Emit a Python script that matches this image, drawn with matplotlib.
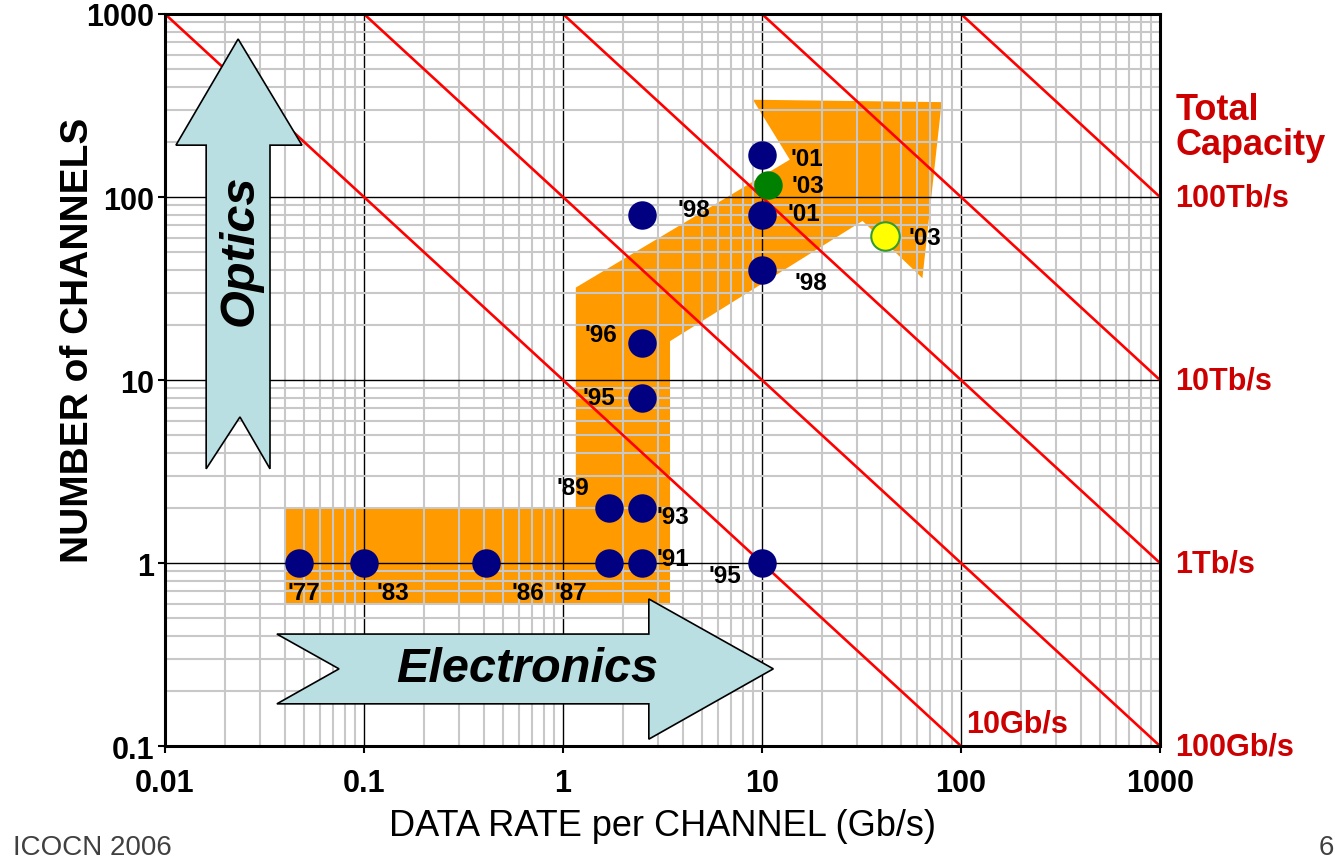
import matplotlib
matplotlib.use("Agg")
import matplotlib.pyplot as plt
import numpy as np
from matplotlib.patches import Polygon

plt.rcParams['font.family'] = ['Liberation Sans', 'DejaVu Sans']

# Experiment records: data rate per channel (Gb/s) vs number of channels
rate = [0.047, 0.1, 0.41, 1.7, 2.5, 1.7, 2.5, 2.5, 2.5, 2.5, 10, 10, 10, 10]
channels = [1, 1, 1, 1, 1, 2, 2, 8, 16, 80, 1, 40, 80, 170]
years = ["'77", "'83", "'86", "'87", "'91", "'89", "'93", "'95", "'96", "'98",
         "'95", "'98", "'01", "'01"]

# 2003 records
rate_03 = [10.7, 41.5]
channels_03 = [116, 61]
years_03 = ["'03", "'03"]

# total capacity lines (Gb/s)
capacity = [10, 100, 1000, 1e4, 1e5]
capacity_labels = ['10Gb/s', '100Gb/s', '1Tb/s', '10Tb/s', '100Tb/s']

xticks = [0.01, 0.1, 1, 10, 100, 1000]
xtick_labels = ['0.01', '0.1', '1', '10', '100', '1000']
yticks = [0.1, 1, 10, 100, 1000]
ytick_labels = ['0.1', '1', '10', '100', '1000']

# label offsets (points) for each record
offs = [(4, -21), (21, -21), (30, -21), (-27, -21), (22, 3), (-26, 15), (22, -6),
        (-31, 0), (-30, 6), (37, 4), (-27, -9), (35, -9), (30, 1), (32, -3)]
offs_03 = [(29, 0), (29, -1)]

fig = plt.figure(figsize=(13.35, 8.62), dpi=100)
ax = fig.add_axes([0.1236, 0.1334, 0.7453, 0.8492])
ax.set_xscale('log')
ax.set_yscale('log')
ax.set_xlim(0.01, 1000)
ax.set_ylim(0.1, 1000)

# orange L-shaped trend arrow
trend = [(0.04, 0.6), (0.04, 2), (1.16, 2), (1.16, 32), (13.8, 160), (9, 340),
         (80, 330), (64, 36), (32, 74), (3.45, 16.3), (3.45, 0.6)]
ax.add_patch(Polygon(trend, closed=True, facecolor='#ff9a00', edgecolor='none', zorder=0.2))

# grid
ax.set_axisbelow(True)
ax.grid(which='minor', color='#c8c8c8', lw=1.5)
ax.grid(which='major', color='black', lw=1.0)

# total capacity lines
xl = np.array([1e-3, 1e4])
for c in capacity:
    ax.plot(xl, c / xl, color='#ff0000', lw=1.9, zorder=2)

# light blue arrows
optics = [(0.0233, 730), (0.0488, 192), (0.0337, 192), (0.0337, 3.27), (0.0238, 6.28),
          (0.0161, 3.27), (0.0161, 192), (0.01135, 192)]
ax.add_patch(Polygon(optics, closed=True, facecolor='#b9dfe2', edgecolor='black', lw=1.2, zorder=3))
electronics = [(0.0365, 0.409), (2.70, 0.409), (2.70, 0.636), (11.4, 0.264), (2.70, 0.109),
               (2.70, 0.170), (0.0365, 0.170), (0.0749, 0.264)]
ax.add_patch(Polygon(electronics, closed=True, facecolor='#b9dfe2', edgecolor='black', lw=1.2, zorder=3))
ax.text(0.0238, 52, 'Optics', rotation=90, ha='center', va='center', fontsize=35,
        fontweight='bold', fontstyle='italic', zorder=4)
ax.text(0.66, 0.265, 'Electronics', ha='center', va='center', fontsize=35,
        fontweight='bold', fontstyle='italic', zorder=4)

# data points
ax.plot(rate, channels, 'o', color='#000080', ms=20.5, mec='none', zorder=5)
ax.plot(rate_03[0], channels_03[0], 'o', color='#008000', ms=20.5, mec='none', zorder=5)
ax.plot(rate_03[1], channels_03[1], 'o', color='#ffff00', ms=20.5, mec='#339933', mew=1.5, zorder=5)

for x, y, t, o in zip(rate + rate_03, channels + channels_03, years + years_03, offs + offs_03):
    ax.annotate(t, (x, y), xytext=o, textcoords='offset points', ha='center', va='center',
                fontsize=17.5, fontweight='bold', zorder=6)

# capacity labels
red = '#cc0000'
ax.annotate(capacity_labels[0], (100, 0.1), xytext=(4, 16), textcoords='offset points',
            ha='left', va='center', fontsize=22, fontweight='bold', color=red, annotation_clip=False)
for c, lab in zip(capacity[1:], capacity_labels[1:]):
    ax.annotate(lab, (1000, c / 1000), xytext=(11, 0), textcoords='offset points',
                ha='left', va='center', fontsize=22, fontweight='bold', color=red,
                annotation_clip=False)
ax.annotate('Total\nCapacity', (1000, 100), xytext=(11, 25), textcoords='offset points',
            ha='left', va='bottom', fontsize=26, fontweight='bold', color=red,
            linespacing=1.02, annotation_clip=False)

# axes styling
for s in ax.spines.values():
    s.set_linewidth(2.2)
ax.set_xticks(xticks)
ax.set_xticklabels(xtick_labels, fontweight='bold')
ax.set_yticks(yticks)
ax.set_yticklabels(ytick_labels, fontweight='bold')
ax.tick_params(which='major', direction='out', length=5, width=1.5, labelsize=22)
ax.tick_params(axis='x', pad=11)
ax.tick_params(axis='y', pad=3)
ax.tick_params(which='minor', length=0)

ax.set_xlabel('DATA RATE per CHANNEL (Gb/s)', fontsize=26)
ax.xaxis.set_label_coords(0.5, -0.085)
ax.set_ylabel('NUMBER of CHANNELS', fontsize=28, fontweight='bold')
ax.yaxis.set_label_coords(-0.069, 0.556)

fig.text(0.0097, 1 - 848 / 862, 'ICOCN 2006', fontsize=20, color='#404040', va='center')
fig.text(1319 / 1335, 1 - 848 / 862, '6', fontsize=20, color='#404040', va='center')

fig.savefig('out.png', dpi=100)
